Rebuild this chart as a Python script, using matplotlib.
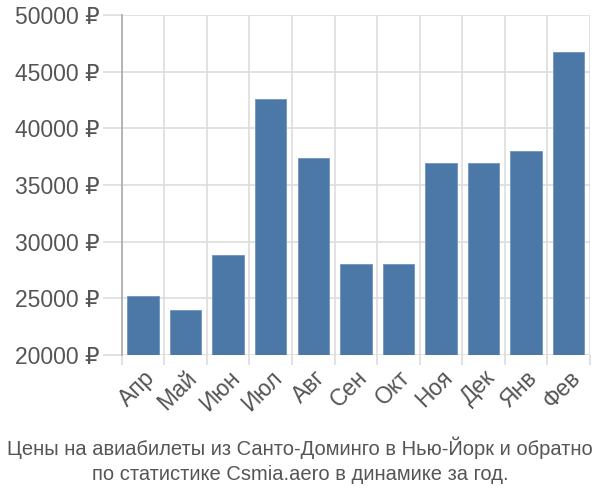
import numpy as np
import matplotlib
matplotlib.use("Agg")
import matplotlib.pyplot as plt
from matplotlib.ticker import FixedLocator

months = ["Апр", "Май", "Июн", "Июл", "Авг", "Сен", "Окт", "Ноя", "Дек", "Янв", "Фев"]
prices = [25200, 24000, 28800, 42600, 37400, 28000, 28000, 36900, 36900, 38000, 46700]
yticks = [20000, 25000, 30000, 35000, 40000, 45000, 50000]

plt.rcParams['font.family'] = ['Liberation Sans', 'DejaVu Sans']
txt = '#555555'
grid = '#dddddd'

fig = plt.figure(figsize=(6, 5), dpi=100)
ax = fig.add_axes([0.203, 0.29, 0.78, 0.68])

x = np.arange(len(months))
base = yticks[0]
ax.bar(x, [p - base for p in prices], bottom=base, width=0.74,
       color='#4c78a8', edgecolor='#6f93c0', linewidth=0.6, zorder=3)

ax.set_xlim(-0.5, len(months) - 0.5)
ax.set_ylim(yticks[0], yticks[-1])
ax.set_yticks(yticks)
ax.set_yticklabels([f"{v} ₽" for v in yticks])
ax.set_xticks(x)
ax.set_xticklabels(months, rotation=45, ha='right', rotation_mode='anchor')
ax.xaxis.set_minor_locator(FixedLocator(np.arange(len(months) + 1) - 0.5))

ax.grid(axis='y', which='major', color=grid, linewidth=1.2, zorder=0)
ax.grid(axis='x', which='minor', color=grid, linewidth=1.2, zorder=0)
ax.tick_params(axis='y', length=14, color=grid, width=1.2, labelsize=16.5, labelcolor=txt, pad=2)
ax.tick_params(axis='x', which='major', length=0, labelsize=16.5, labelcolor=txt, pad=8)
ax.tick_params(axis='x', which='minor', length=7, color=grid, width=1.2)

for s in ['top', 'right', 'bottom']:
    ax.spines[s].set_visible(False)
ax.spines['left'].set_color('#aaaaaa')
ax.spines['left'].set_linewidth(1.2)

fig.text(0.5, 0.08, "Цены на авиабилеты из Санто-Доминго в Нью-Йорк и обратно\nпо статистике Csmia.aero в динамике за год.",
         ha='center', va='center', fontsize=14.5, color=txt, linespacing=1.4)

fig.savefig("out.png", dpi=100)
